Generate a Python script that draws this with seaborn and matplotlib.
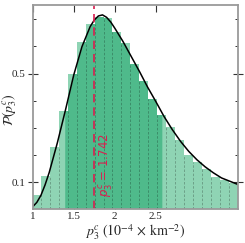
import numpy as np
import pandas as pd
import seaborn as sns
import matplotlib.pyplot as plt
from matplotlib.ticker import FixedLocator
from matplotlib.patches import PathPatch
from matplotlib.path import Path

OUTPUT = "out.png"

# histogram (bin start, bin width, bar heights)
bin_start = 0.988
bin_width = 0.1093
bar_heights = [0.055, 0.122, 0.229, 0.363, 0.499, 0.617, 0.683, 0.710,
               0.704, 0.652, 0.612, 0.537, 0.473, 0.407, 0.347, 0.304,
               0.257, 0.202, 0.173, 0.149, 0.121, 0.107, 0.098]

# credible region shaded darker (under the curve)
region_lo = 1.39
region_hi = 2.573

# fitted density curve
curve_x = [1.0, 1.05, 1.1, 1.15, 1.2, 1.3, 1.4, 1.5, 1.6, 1.7, 1.75, 1.8,
           1.85, 1.9, 1.95, 2.0, 2.1, 2.2, 2.3, 2.4, 2.5, 2.6, 2.7, 2.8,
           2.9, 3.0, 3.1, 3.2, 3.3, 3.4, 3.5]
curve_y = [0.010, 0.026, 0.052, 0.090, 0.135, 0.245, 0.367, 0.495, 0.599,
           0.673, 0.697, 0.712, 0.716, 0.707, 0.690, 0.667, 0.618, 0.563,
           0.508, 0.450, 0.397, 0.342, 0.294, 0.251, 0.214, 0.183, 0.157,
           0.135, 0.116, 0.104, 0.092]

p_best = 1.742

x_ticks = [1, 1.5, 2, 2.5]
x_ticklabels = ["1", "1.5", "2", "2.5"]
y_ticks = [0.1, 0.5]
y_ticklabels = ["0.1", "0.5"]

LIGHT = "#8fd4b4"
DARK = "#4fba8b"
RED = "#d81e4f"


def run():
    sns.set_style("ticks")
    plt.rcParams["font.family"] = "serif"
    plt.rcParams["font.serif"] = ["Liberation Serif", "DejaVu Serif"]
    plt.rcParams["mathtext.fontset"] = "stix"

    edges = bin_start + bin_width * np.arange(len(bar_heights) + 1)
    centers = (edges[:-1] + edges[1:]) / 2
    heights = np.array(bar_heights)
    hist_df = pd.DataFrame({"p": centers, "w": heights})

    fig = plt.figure(figsize=(2.45, 2.43), dpi=100)
    ax = fig.add_axes([0.1335, 0.138, 0.836, 0.841])

    sns.histplot(data=hist_df, x="p", weights="w", bins=list(edges),
                 stat="count", color=LIGHT, alpha=1, linewidth=0, ax=ax)

    # outline of the histogram, used to clip the dark fill
    verts = [(edges[0], 0)]
    for i, h in enumerate(heights):
        verts += [(edges[i], h), (edges[i + 1], h)]
    verts += [(edges[-1], 0), (edges[0], 0)]
    outline = PathPatch(Path(verts), facecolor="none", edgecolor="none")
    ax.add_patch(outline)

    cx = np.array(curve_x)
    cy = np.array(curve_y)
    mask = (cx > region_lo) & (cx < region_hi)
    fx = np.concatenate([[region_lo], cx[mask], [region_hi]])
    fy = np.concatenate([[np.interp(region_lo, cx, cy)], cy[mask],
                         [np.interp(region_hi, cx, cy)]])
    dark = ax.fill_between(fx, 0, fy, color=DARK, linewidth=0)
    dark.set_clip_path(outline)

    # dashed bin separators
    for i in range(1, len(heights)):
        ax.vlines(edges[i], 0, min(heights[i - 1], heights[i]), colors="k",
                  alpha=0.28, linestyles=(0, (3, 2)), linewidth=0.6)

    sns.lineplot(x=curve_x, y=curve_y, color="black", linewidth=1.1, ax=ax,
                 sort=False)

    ax.axvline(p_best, color=RED, linestyle=(0, (5, 3)), linewidth=1.2)
    ax.text(1.9, 0.045, r"$p_3^c$ = 1.742", rotation=90, color=RED,
            ha="center", va="bottom", fontsize=8.5, family="DejaVu Sans",
            math_fontfamily="dejavusans")

    ax.set_xlim(1, 3.495)
    ax.set_ylim(0, 0.752)
    ax.xaxis.set_major_locator(FixedLocator(x_ticks))
    ax.set_xticklabels(x_ticklabels)
    ax.yaxis.set_major_locator(FixedLocator(y_ticks))
    ax.set_yticklabels(y_ticklabels)
    ax.yaxis.set_minor_locator(FixedLocator([0.2, 0.3, 0.4, 0.6, 0.7]))

    ax.tick_params(axis="both", which="both", direction="in", top=True,
                   right=True, labelsize=8, color="#333333", pad=2)
    ax.tick_params(axis="both", which="major", length=5, width=0.8)
    ax.tick_params(axis="both", which="minor", length=2.5, width=0.7)
    ax.tick_params(axis="y", which="major", direction="inout", length=7)

    for s in ax.spines.values():
        s.set_color("#9a9a9a")
        s.set_linewidth(1.3)

    ax.set_xlabel(r"$p_3^c\ (10^{-4}\,\times\,\mathrm{km}^{-2})$",
                  fontsize=10, labelpad=1)
    ax.set_ylabel(r"$\mathcal{P}(p_3^c)$", fontsize=10)
    ax.yaxis.set_label_coords(-0.065, 0.49)

    plt.savefig(OUTPUT, dpi=100)
    plt.close()


if __name__ == "__main__":
    run()
